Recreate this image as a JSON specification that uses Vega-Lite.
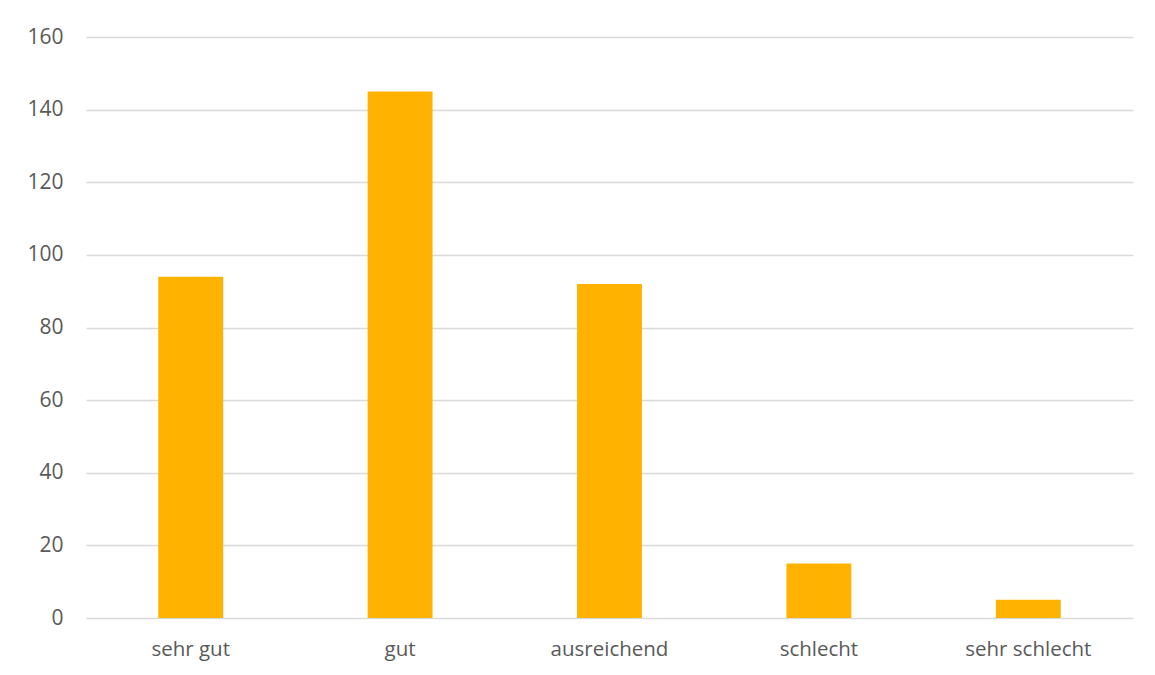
{
  "$schema": "https://vega.github.io/schema/vega-lite/v6.json",
  "width": 1047,
  "height": 581,
  "autosize": {"type": "none"},
  "padding": {"left": 86, "top": 37, "right": 22, "bottom": 57},
  "background": "white",
  "data": {
    "values": [
      {"rating": "sehr gut", "count": 94},
      {"rating": "gut", "count": 145},
      {"rating": "ausreichend", "count": 92},
      {"rating": "schlecht", "count": 15},
      {"rating": "sehr schlecht", "count": 5}
    ]
  },
  "mark": {"type": "bar", "color": "#FFB300"},
  "encoding": {
    "x": {
      "field": "rating",
      "type": "nominal",
      "sort": null,
      "scale": {"paddingInner": 0.69, "paddingOuter": 0.345},
      "axis": {
        "title": null,
        "labelAngle": 0,
        "domain": false,
        "ticks": false,
        "labelFont": "Open Sans",
        "labelFontSize": 20.5,
        "labelColor": "#595959",
        "labelPadding": 21
      }
    },
    "y": {
      "field": "count",
      "type": "quantitative",
      "scale": {"domain": [0, 160], "nice": false},
      "axis": {
        "title": null,
        "values": [0, 20, 40, 60, 80, 100, 120, 140, 160],
        "domain": false,
        "ticks": false,
        "gridColor": "#D9D9D9",
        "gridWidth": 1.3,
        "labelFont": "Open Sans",
        "labelFontSize": 21,
        "labelColor": "#595959",
        "labelPadding": 23
      }
    }
  },
  "config": {"view": {"stroke": null}}
}
